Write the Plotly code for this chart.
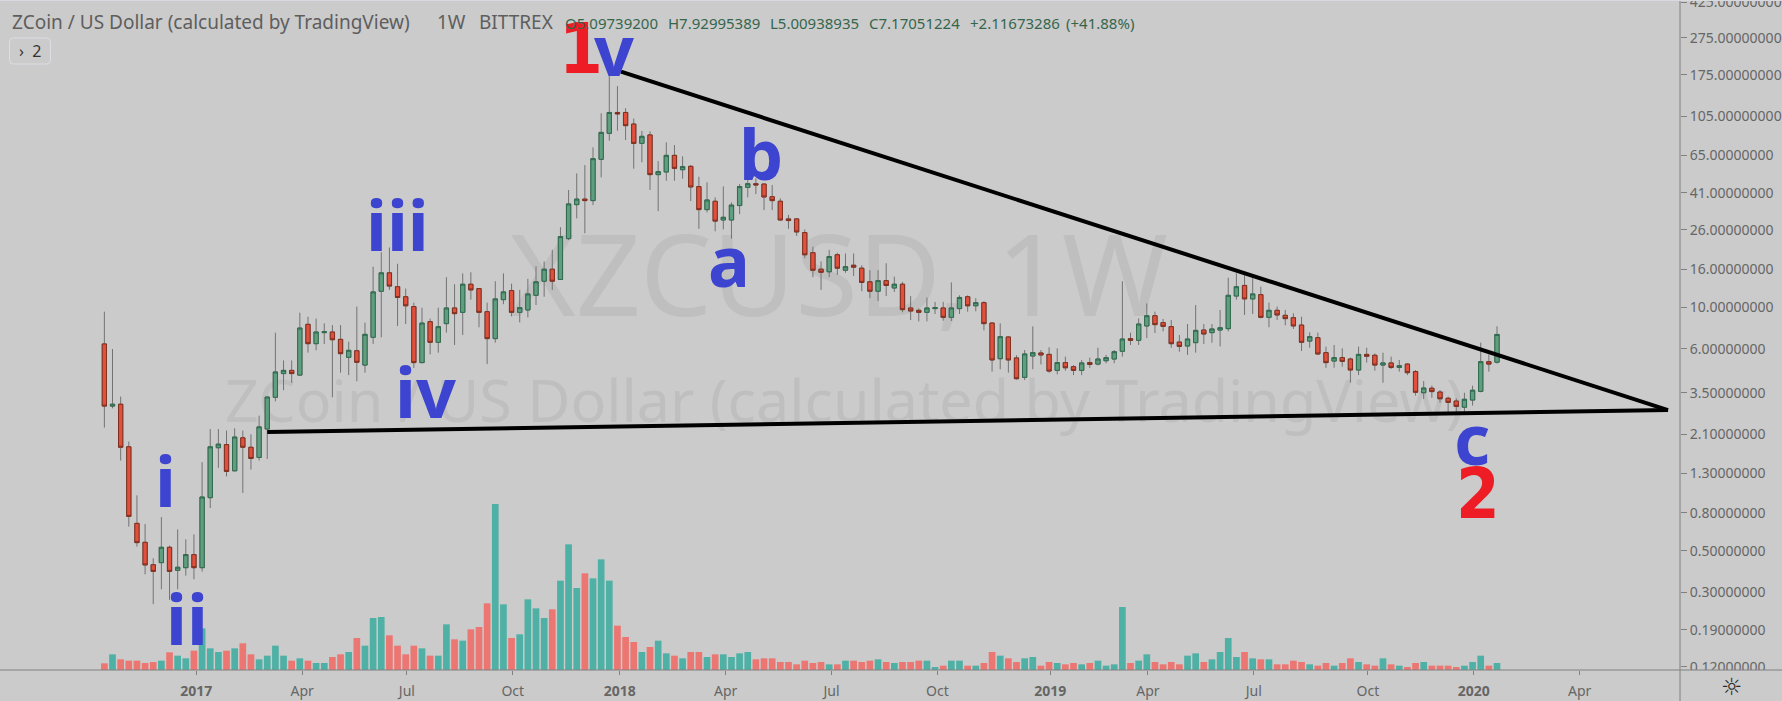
import pandas as pd
import plotly.graph_objects as go

# ---- weekly bars (XZC/USD) ----
first_week = "2016-10-17"

open_ = [6.38,2.97,3.04,1.8,0.702,0.556,0.422,0.433,0.523,0.394,0.407,0.478,0.407,0.963,1.78,1.85,1.34,2.01,1.79,1.58,2.24,3.31,4.43,4.61,4.35,8.12,6.4,7.33,7.39,6.75,5.41,5.87,4.92,6.92,12.2,15.3,
12.9,11.4,10.1,5.07,8.39,6.51,8.19,9.93,9.41,13.3,12.6,9.49,6.81,11,12.3,9.41,9.69,11.6,13.8,16,14.1,23.3,35.4,37.9,37.2,61.8,85.1,110,110,95.4,75.2,83.4,51.2,52.9,64.9,54.4,
56.7,44.2,33.3,36.9,29.3,29.3,35,43.8,45.8,45.6,39,36.9,29.7,29.7,25.1,19.6,16,15.5,19.1,15.8,16.8,16.2,13.7,12.2,13.9,12.7,13.3,9.93,9.65,9.41,9.85,9.93,8.85,9.85,11.4,10.2,
10.6,8.25,5.32,6.95,5.37,4.23,5.5,5.71,5.61,4.61,5.07,4.82,4.61,5.07,4.98,5.19,5.3,5.83,6.81,6.67,7.96,9.03,8.29,7.89,6.53,6.22,6.48,7.57,7.33,7.57,7.7,11.5,13.1,11.1,11.7,8.85,
9.65,9.07,8.81,8.05,6.61,6.89,5.73,5.17,5.39,5.3,4.63,5.61,5.55,4.92,5.05,4.78,4.98,4.54,3.5,3.7,3.53,3.27,3.16,2.93,3.2,3.56,5.13,5.097]
high = [9.49,5.99,3.34,1.92,0.991,0.697,0.457,0.759,0.534,0.652,0.577,0.613,1.49,2.24,2.24,2.2,2.26,2.2,2.1,2.64,3.32,7.33,5.21,5.21,9.37,8.92,8.71,8.22,8.05,8.05,6.56,10.1,8.29,16.5,19.7,20.9,
17.1,12.6,10.6,9.97,8.71,9.97,14.5,13.3,15.2,15.4,12.6,10.6,13.8,15.2,13.4,12.4,14.2,16.6,17.6,20.3,26.8,42.4,52,57.6,71.6,109,190,152,116,102,87.6,87.2,60.5,76.2,73.7,64.1,
57.6,49.9,46.6,38.7,44.3,36.4,45.6,47.9,48.9,46,45.1,38.2,31.2,29.9,26.1,21.1,17.6,20.3,19.6,19.4,19.4,16.8,15.8,15.8,17.2,14.6,13.7,11.5,9.89,11.3,10.7,10.7,13.6,11.6,11.6,11.2,
10.8,8.32,8.22,7.03,5.55,5.92,7.92,5.92,6.12,6.04,5.46,4.92,5.24,5.39,6.09,5.57,5.92,13.8,7.33,8.74,10.5,9.49,8.67,8.56,7.12,8.15,10.3,8.15,8.15,9.69,14.4,15.2,14.9,14.3,12.9,10.6,
10.1,9.69,9.3,8.92,7.36,7.33,6.17,6.3,6.04,5.39,6.17,6.09,5.68,5.73,5.46,5.24,5.03,4.63,4.04,3.82,3.62,3.34,3.27,3.5,3.82,6.48,5.61,7.93]
low = [2.28,2.89,1.52,0.674,0.527,0.375,0.26,0.312,0.274,0.312,0.369,0.353,0.388,0.848,1.39,1.25,1.33,1.02,1.36,1.52,1.55,3.15,3.61,3.96,4.3,5.73,5.9,6.38,3.31,4.48,4.35,4.03,4.48,6.38,6.92,12.4,
7.96,8.15,4.75,5.03,5.61,5.73,7.33,6.3,7.12,11,7.83,4.98,6.48,10.4,8.96,8.32,8.85,10.3,11.4,12.4,14,22.9,29.9,24.9,35.2,49.5,77.7,87.9,78.4,55.1,59.6,42.4,32.7,47.5,47.5,48.7,
37,26.3,32.2,25.5,26.1,23.3,31.5,38.7,40.3,33.1,33.1,29.1,26.3,24.1,18.3,14.5,12.4,14.5,14.9,15.3,14.7,12.2,11.2,10.8,11.5,12.1,9.41,8.56,8.42,8.42,9.22,8.49,8.46,9.22,9.49,9.53,
7.54,4.54,4.67,4.48,4.11,4.09,4.67,4.96,4.48,4.39,4.59,4.35,4.35,4.75,4.9,5.03,5.03,5.46,6.3,6.3,6.86,7.3,7.45,6.09,5.8,5.57,5.73,6.38,6.48,6.19,7.45,11,9.11,9.22,8.74,7.83,
8.56,8.02,7.67,5.85,6.09,5.57,4.76,4.76,4.82,3.96,4.35,5.07,4.59,3.96,4.69,4.54,4.35,3.38,3.24,3.29,3.1,2.75,2.72,2.77,2.99,3.52,4.54,5.01]
close = [2.97,3.04,1.79,0.765,0.554,0.421,0.389,0.523,0.389,0.409,0.478,0.407,0.971,1.8,1.86,1.33,2.03,1.79,1.56,2.3,3.32,4.52,4.61,4.43,7.76,6.4,7.39,7.42,6.72,5.66,5.9,5.09,7.18,12.1,15.3,13,
11.3,10.2,5.07,8.25,6.51,7.89,9.93,9.26,13.3,12.4,9.41,6.81,11.1,12.1,9.41,9.97,11.8,13.7,16,13.8,23.9,35.7,37.9,37.2,62.3,86.1,110,108,93.5,75.2,82,51.2,53.1,64.9,55.3,56.5,
44,33.3,37.5,28.9,30.3,35.2,44.2,45.8,45.1,38.9,37.2,29.3,29.1,25.3,19.1,15.8,15.4,18.7,16.2,16.5,16.4,13.6,12.2,13.9,13.1,13.3,9.73,9.57,9.41,9.93,9.97,8.85,9.93,11.3,10.2,10.6,
8.19,5.24,6.98,5.24,4.16,5.64,5.73,5.57,4.57,5.07,4.76,4.61,5.05,4.96,5.3,5.39,5.8,6.78,6.67,8.15,9.03,8.09,7.92,6.4,6.19,6.78,7.54,7.21,7.67,7.79,11.6,12.9,11.1,11.8,8.85,9.65,
9.11,8.71,7.96,6.51,6.98,5.64,5.07,5.39,5.15,4.63,5.61,5.48,4.92,5.05,4.78,4.88,4.48,3.52,3.71,3.55,3.25,3.11,2.96,3.23,3.61,5.13,4.98,7.17]
volume = [20,47,32,28,28,21,24,28,53,43,35,58,125,65,54,58,65,80,47,32,43,73,43,28,35,28,21,21,39,47,54,96,73,156,159,104,73,47,73,65,43,43,137,92,88,122,129,200,498,197,96,107,212,185,156,182,268,377,246,290,275,332,
268,133,99,84,54,69,88,50,43,35,54,54,39,47,47,39,50,54,32,35,35,24,24,17,28,21,24,17,17,28,28,24,28,32,24,21,24,24,28,28,9,13,28,28,13,13,21,54,43,35,24,35,39,13,24,21,17,21,17,21,28,13,17,189,21,28,47,
24,17,24,17,43,50,24,32,54,96,39,54,35,32,32,17,17,28,24,17,13,21,13,21,35,24,17,13,35,17,13,9,21,24,13,13,13,9,13,24,43,13,21]

# ---- axis ticks ----
price_ticks = [425,275,175,105,65,41,26,16,10,6,3.5,2.1,1.3,0.8,0.5,0.3,0.19,0.12]
date_ticks = ["2017-01-04","2017-04-05","2017-07-04","2017-10-03","2018-01-03","2018-04-04","2018-07-04","2018-10-03","2019-01-08","2019-04-02","2019-07-02","2019-10-08","2020-01-07","2020-04-07"]
date_labels = ["<b>2017</b>","Apr","Jul","Oct","<b>2018</b>","Apr","Jul","Oct","<b>2019</b>","Apr","Jul","Oct","<b>2020</b>","Apr"]

# ---- trend lines drawn by the analyst ----
upper_x, upper_y = ["2018-01-04","2020-06-22"], [181.6,2.83]
lower_x, lower_y = ["2017-03-06","2020-06-22"], [2.16,2.83]

BG = "#cbcbcb"
W, H, PW, PH = 1782, 701, 1680, 669
px = lambda x: x / PW
py = lambda y: (670 - y) / PH

dates = pd.date_range(first_week, periods=len(open_), freq="7D")
body_hi = [max(o, c) for o, c in zip(open_, close)]
body_lo = [min(o, c) for o, c in zip(open_, close)]
vol_col = ["#4fb0a5" if c >= o else "#ec7672" for o, c in zip(open_, close)]

fig = go.Figure()

# watermarks and volume live on the lower (base) axis so the candles sit above them
fig.add_trace(go.Bar(x=dates, y=volume, marker=dict(color=vol_col, line_width=0), yaxis="y", hoverinfo="skip"))
wm = dict(family="Noto Sans", color="#bfbfbf")
fig.add_trace(go.Scatter(x=["2018-07-10"], y=[1147], mode="text", text=["XZCUSD, 1W"], textposition="middle center",
                         textfont=dict(size=114, **wm), yaxis="y", cliponaxis=False, hoverinfo="skip"))
fig.add_trace(go.Scatter(x=["2018-07-15"], y=[788], mode="text", text=["ZCoin / US Dollar (calculated by TradingView)"],
                         textposition="middle center", textfont=dict(size=59.2, **wm), yaxis="y", cliponaxis=False, hoverinfo="skip"))

# wicks (grey) then bodies with their dark outlines
fig.add_trace(go.Candlestick(x=dates, open=open_, high=high, low=low, close=close, yaxis="y2", whiskerwidth=0,
    increasing=dict(line=dict(color="#737373", width=1), fillcolor="#737373"),
    decreasing=dict(line=dict(color="#737373", width=1), fillcolor="#737373")))
fig.add_trace(go.Candlestick(x=dates, open=open_, high=body_hi, low=body_lo, close=close, yaxis="y2", whiskerwidth=0,
    increasing=dict(line=dict(color="#2f6b4e", width=1), fillcolor="#5f9e7e"),
    decreasing=dict(line=dict(color="#80301f", width=1), fillcolor="#e0503c")))

for xs, ys in ((upper_x, upper_y), (lower_x, lower_y)):
    fig.add_trace(go.Scatter(x=xs, y=ys, mode="lines", yaxis="y2", line=dict(color="black", width=4), hoverinfo="skip"))

anns = []
def label(text, x, y, size, color, font="Noto Sans", anchor="center"):
    anns.append(dict(text=text, xref="paper", yref="paper", x=px(x), y=py(y), xanchor=anchor, yanchor="middle",
                     showarrow=False, borderpad=0, font=dict(family=font, size=size, color=color)))

RED, BLUE = "#ee1c25", "#3c44d0"
fs = 70
off = 27
for t, x, base in [("i",165.5,506.7),("ii",187,645),("iii",397,251),("iv",425,417.7),("a",729,286.7),("b",760.6,180),("c",1472,465),("v",613.6,76)]:
    label("<b>%s</b>" % t, x, base - off, fs, BLUE)
for t, x, base in [("1",581,76),("2",1478,521)]:
    label("<b>%s</b>" % t, x, base - off, fs, RED, font="DejaVu Sans Condensed, Noto Sans")

TXT = "#5e5e5e"
GRN = "#35664d"
label("ZCoin / US Dollar (calculated by TradingView)", 10.5, 21.5, 19, TXT, anchor="left")
label("1W", 436, 21.5, 19, TXT, anchor="left")
label("BITTREX", 478, 21.5, 19, TXT, anchor="left")
for t, x in [("O5.09739200",564),("H7.92995389",667),("L5.00938935",769),("C7.17051224",868),("+2.11673286",969),("(+41.88%)",1065)]:
    label(t, x, 22.5, 15, GRN, anchor="left")
label("›  2", 30, 51, 16, "#333333")
label("☼", 1731.5, 686.5, 24, "#2a2a2a", font="DejaVu Sans")

x0, x1, y0, y1, r = px(9.5), px(50.5), py(38), py(64), 4
rx, ry = r / PW, r / PH
btn = (f"M {x0+rx},{y0} L {x1-rx},{y0} Q {x1},{y0} {x1},{y0-ry} L {x1},{y1+ry} Q {x1},{y1} {x1-rx},{y1} "
       f"L {x0+rx},{y1} Q {x0},{y1} {x0},{y1+ry} L {x0},{y0-ry} Q {x0},{y0} {x0+rx},{y0} Z")
AX = "#808080"
shapes = [
    dict(type="rect", xref="paper", yref="paper", x0=1, x1=W/PW, y0=py(701), y1=py(670), fillcolor=BG, line_width=0, layer="above"),
    dict(type="path", xref="paper", yref="paper", path=btn, line=dict(color="#dcdde3", width=1), layer="above"),
    dict(type="line", xref="paper", yref="paper", x0=0, x1=W/PW, y0=0, y1=0, line=dict(color=AX, width=1), layer="above"),
    dict(type="line", xref="paper", yref="paper", x0=1, x1=1, y0=py(701), y1=py(0), line=dict(color=AX, width=1), layer="above"),
    dict(type="line", xref="paper", yref="paper", x0=0, x1=W/PW, y0=py(0.5), y1=py(0.5), line=dict(color="#d8dae0", width=1), layer="above"),
]

axfont = dict(family="Noto Sans", size=14, color="#666666")
fig.update_layout(
    width=W, height=H, autosize=False,
    margin=dict(l=0, r=W-PW, t=670-PH, b=H-670, pad=0, autoexpand=False),
    paper_bgcolor=BG, plot_bgcolor=BG, showlegend=False, bargap=0.18, barmode="overlay", boxmode="overlay", boxgap=0.25,
    hovermode=False, dragmode=False,
    xaxis=dict(type="date", range=["2016-07-19 07:00","2020-07-02 07:00"], rangeslider_visible=False, showgrid=False, zeroline=False,
               tickmode="array", tickvals=date_ticks, ticktext=date_labels, ticks="outside", ticklen=4, tickcolor=AX, tickwidth=1,
               tickfont=axfont, ticklabelstandoff=4, showline=False, automargin=False),
    yaxis=dict(range=[0,2007], visible=False, fixedrange=True, automargin=False),
    yaxis2=dict(type="log", overlaying="y", side="right", range=[-0.937,2.6368], showgrid=False, zeroline=False,
                tickmode="array", tickvals=price_ticks, ticktext=["%.8f" % v for v in price_ticks], ticklabeloverflow="allow",
                ticks="outside", ticklen=6, tickcolor=AX, tickwidth=1, tickfont=axfont, showline=False, automargin=False),
    annotations=anns, shapes=shapes,
)
fig.write_html("out.html", config={"displayModeBar": False},
               post_script="document.body.style.margin='0';document.documentElement.style.overflow='hidden';document.body.style.background='#cbcbcb';")
